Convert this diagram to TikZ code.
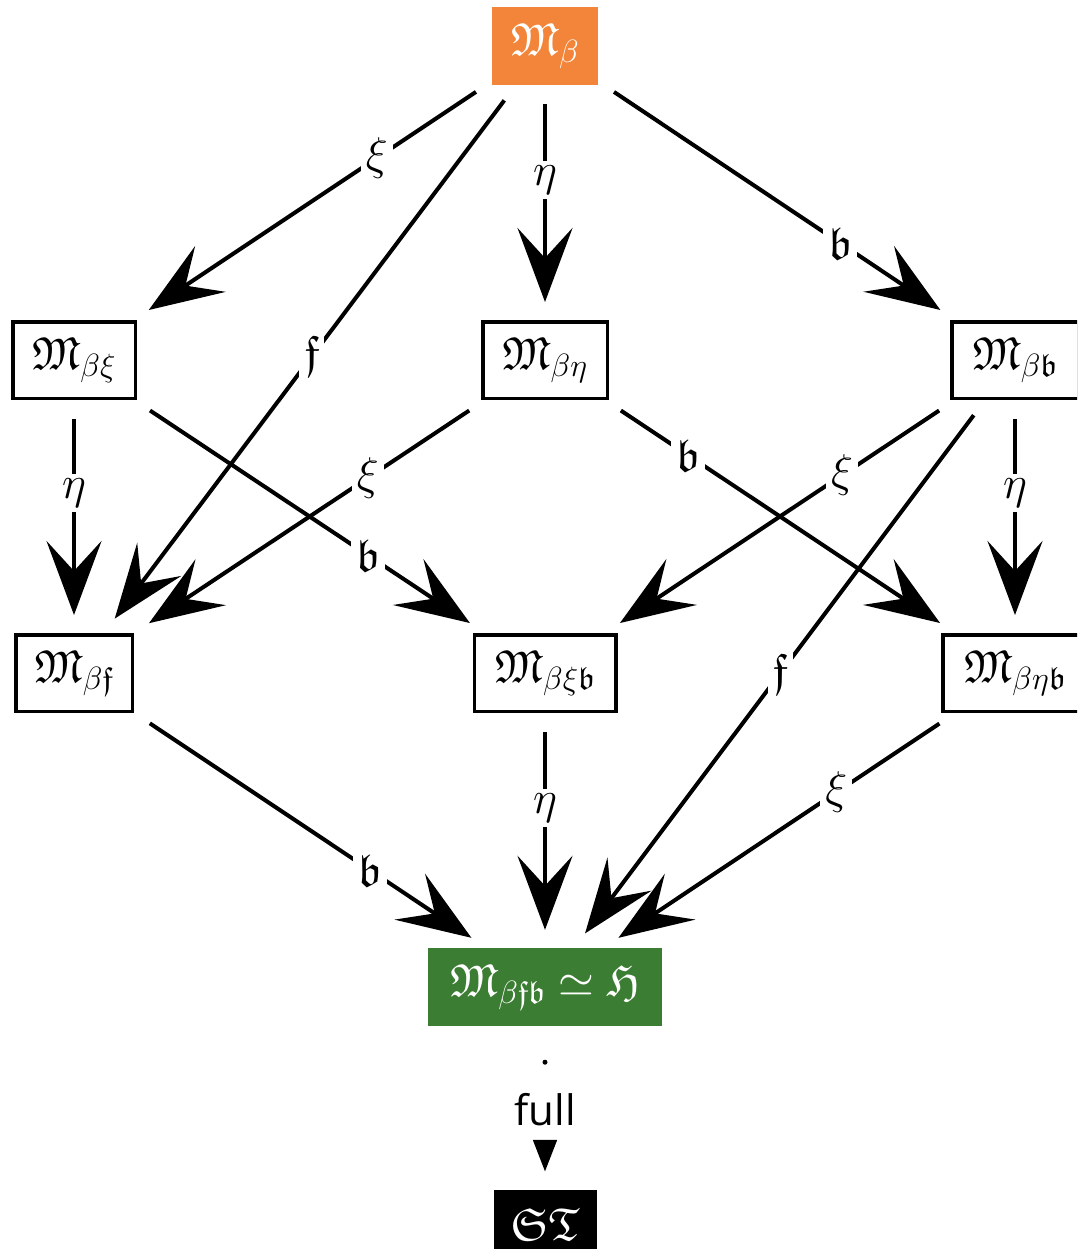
\RequirePackage{fix-cm}
\documentclass[tikz,border=0pt]{standalone}
\usepackage{amssymb}
\usepackage{fontspec}
\newfontfamily\labelsans{Open Sans}
% scalable Fraktur so large sizes are not substituted
\DeclareFontFamily{U}{euf}{}
\DeclareFontShape{U}{euf}{m}{n}{<-6>eufm5<6-8>eufm7<8->eufm10}{}
\DeclareFontShape{U}{euf}{b}{n}{<-6>eufb5<6-8>eufb7<8->eufb10}{}
\usetikzlibrary{arrows.meta,calc}

\definecolor{nodeorange}{RGB}{242,133,57}
\definecolor{nodegreen}{RGB}{59,125,50}

\tikzset{
  every node/.style={font=\fontsize{46}{54}\selectfont},
  box/.style={draw, line width=3.5pt, minimum height=76.5pt, inner xsep=0pt},
  filledbox/.style={minimum height=78pt, inner xsep=0pt, text=white},
  arr/.style={line width=4pt, shorten <=19pt, shorten >=18pt,
    -{Stealth[length=74pt,width=55pt,inset=30pt]}},
  lbl/.style={fill=white, inner sep=5pt},
}

\begin{document}
\begin{tikzpicture}[x=1pt,y=-1pt]
\useasboundingbox (0,0) rectangle (1077,1249);
\clip (0,0) rectangle (1077,1249);

% lattice of subcategories
\node[filledbox, fill=nodeorange, minimum width=106pt] (b) at (545,46) {$\mathfrak{M}_{\beta}$};
\node[box, minimum width=122.5pt] (bx)  at (74,360)   {$\mathfrak{M}_{\beta\xi}$};
\node[box, minimum width=124.5pt] (be)  at (545,360)  {$\mathfrak{M}_{\beta\eta}$};
\node[box, minimum width=126.5pt] (bb)  at (1015,360) {$\mathfrak{M}_{\beta\mathfrak{b}}$};
\node[box, minimum width=116.5pt] (bf)  at (74,673)   {$\mathfrak{M}_{\beta\mathfrak{f}}$};
\node[box, minimum width=141.5pt] (bxb) at (545,673)  {$\mathfrak{M}_{\beta\xi\mathfrak{b}}$};
\node[box, minimum width=144.5pt] (beb) at (1015,673) {$\mathfrak{M}_{\beta\eta\mathfrak{b}}$};
\node[filledbox, fill=nodegreen, minimum width=234pt] (h) at (545,987) {$\mathfrak{M}_{\beta\mathfrak{f}\mathfrak{b}}\simeq\mathfrak{H}$};
\node[filledbox, fill=black, minimum width=103pt, minimum height=70pt] (st) at (545,1225) {$\mathfrak{S}\mathfrak{T}$};

% edges
\draw[arr] (b) -- (bx);
\draw[arr] (b) -- (bf);
\draw[arr] (b) -- (be);
\draw[arr] (b) -- (bb);
\draw[arr] (bx) -- (bf);
\draw[arr] (bx) -- (bxb);
\draw[arr] (be) -- (bf);
\draw[arr] (be) -- (beb);
\draw[arr] (bb) -- (bxb);
\draw[arr] (bb) -- (h);
\draw[arr] (bb) -- (beb);
\draw[arr] (bf) -- (h);
\draw[arr] (bxb) -- (h);
\draw[arr] (beb) -- (h);
\draw[line width=5pt, line cap=round, dash pattern=on 0pt off 40pt,
      shorten <=36pt, shorten >=18pt, -{Triangle[length=32pt,width=23pt]}] (h) -- (st);

% edge labels
\node[lbl] (l1)  at ($(b)!0.357!(bx)$)   {$\xi$};
\node[lbl] (l2)  at ($(b)!0.495!(bf)$)   {$\mathfrak{f}$};
\node[lbl] (l3)  at ($(b)!0.427!(be)$)   {$\eta$};
\node[lbl] (l4)  at ($(b)!0.628!(bb)$)   {$\mathfrak{b}$};
\node[lbl] (l5)  at ($(bx)!0.425!(bf)$)  {$\eta$};
\node[lbl] (l6)  at ($(bx)!0.624!(bxb)$) {$\mathfrak{b}$};
\node[lbl] (l7)  at ($(be)!0.376!(bf)$)  {$\xi$};
\node[lbl] (l8)  at ($(be)!0.304!(beb)$) {$\mathfrak{b}$};
\node[lbl] (l9)  at ($(bb)!0.368!(bxb)$) {$\xi$};
\node[lbl] (l10) at ($(bb)!0.5!(h)$)     {$\mathfrak{f}$};
\node[lbl] (l11) at ($(bb)!0.425!(beb)$) {$\eta$};
\node[lbl] (l12) at ($(bf)!0.628!(h)$)   {$\mathfrak{b}$};
\node[lbl] (l13) at ($(bxb)!0.43!(h)$)   {$\eta$};
\node[lbl] (l14) at ($(beb)!0.38!(h)$)   {$\xi$};
\node[lbl, font=\labelsans\fontsize{42}{50}\selectfont] (l15) at ($(h)!0.517!(st)$) {full};
\end{tikzpicture}
\end{document}
